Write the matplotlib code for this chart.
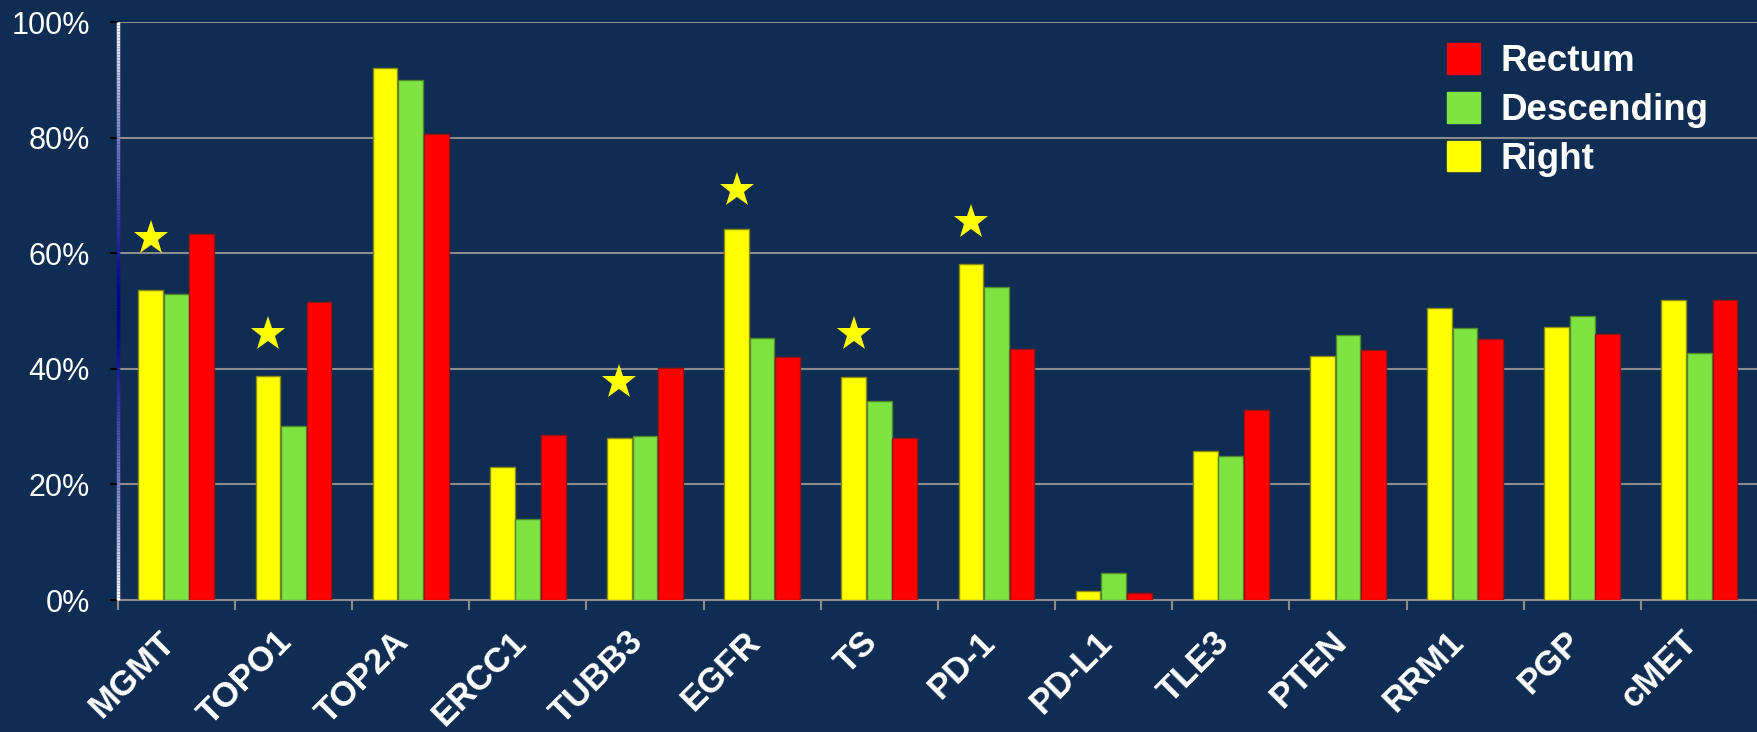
import numpy as np
import matplotlib
matplotlib.use('Agg')
import matplotlib.pyplot as plt
from matplotlib.collections import LineCollection
from matplotlib.transforms import ScaledTranslation

plt.rcParams['font.family'] = ['Liberation Sans', 'DejaVu Sans']

# Data (percent)
genes = ['MGMT', 'TOPO1', 'TOP2A', 'ERCC1', 'TUBB3', 'EGFR', 'TS',
         'PD-1', 'PD-L1', 'TLE3', 'PTEN', 'RRM1', 'PGP', 'cMET']
right = [53.7, 38.8, 92.1, 23.0, 28.1, 64.2, 38.6, 58.2, 1.6, 25.8, 42.2, 50.6, 47.3, 51.9]
descending = [52.9, 30.2, 90.0, 14.1, 28.4, 45.4, 34.4, 54.1, 4.6, 25.0, 45.9, 47.1, 49.2, 42.8]
rectum = [63.3, 51.5, 80.6, 28.6, 40.2, 42.1, 28.0, 43.4, 1.2, 32.9, 43.3, 45.2, 46.0, 52.0]
# significance stars drawn above the "Right" bar
star_genes = ['MGMT', 'TOPO1', 'TUBB3', 'EGFR', 'TS', 'PD-1']
star_y = [62.7, 46.0, 37.7, 71.0, 46.0, 65.4]
yticks = [0, 20, 40, 60, 80, 100]

bg = '#0f2c52'
c_yellow, c_green, c_red = '#ffff00', '#7fe342', '#ff0000'

fig = plt.figure(figsize=(17.58, 7.32), dpi=100, facecolor=bg)
ax = fig.add_axes([117.7 / 1758, 132 / 732, 1 - 117.7 / 1758, (600 - 22.3) / 732])
ax.set_facecolor(bg)

x = np.arange(len(genes))
w = 0.218
ax.bar(x - w, right, w * 0.97, color=c_yellow, edgecolor='#8a8a10', linewidth=1, zorder=3)
ax.bar(x, descending, w * 0.97, color=c_green, edgecolor='#4f8a2a', linewidth=1, zorder=3)
ax.bar(x + w, rectum, w * 0.97, color=c_red, edgecolor='#9a1010', linewidth=1, zorder=3)

sx = [genes.index(g) - w for g in star_genes]
ax.plot(sx, star_y, linestyle='none', marker='*', markersize=26, color=c_yellow,
        markeredgewidth=0, zorder=4)

ax.set_xlim(-0.5, (1758 - 117.7) / 117.6 - 0.5)
ax.set_ylim(0, 100)
ax.set_yticks(yticks)
ax.set_yticklabels(['%d%%' % v for v in yticks])
ax.grid(axis='y', color='#8c8c8c', linewidth=1.5, zorder=1)
ax.set_axisbelow(True)

for s in ['top', 'right', 'left']:
    ax.spines[s].set_visible(False)
ax.spines['bottom'].set_color('#8c8c8c')
ax.spines['bottom'].set_linewidth(1.5)


def axis_color(t):
    # white at top/bottom, deep blue in the middle
    k = min(1.0, abs(t - 0.5) / 0.5) ** 1.4
    blue = np.array([0.0, 0.0, 0.55])
    return tuple(blue + (1 - blue) * k)


ys = np.linspace(0, 1, 200)
segs = [[(0, ys[i]), (0, ys[i + 1])] for i in range(len(ys) - 1)]
cols = [axis_color((ys[i] + ys[i + 1]) / 2) for i in range(len(ys) - 1)]
lc = LineCollection(segs, colors=cols, linewidths=2.5, transform=ax.transAxes,
                    clip_on=False, zorder=5)
ax.add_collection(lc)

ax.tick_params(axis='y', length=6, width=1.5, pad=14, labelsize=22, labelcolor='white')
for t, v in zip(ax.yaxis.get_major_ticks(), yticks):
    t.tick1line.set_color(axis_color(v / 100))

ax.set_xticks(x)
ax.set_xticklabels(genes, rotation=45, ha='right', fontsize=25, fontweight='bold',
                   color='white')
ax.set_xticks(np.arange(len(genes) + 1) - 0.5, minor=True)
ax.tick_params(axis='x', which='major', length=0, pad=18)
ax.tick_params(axis='x', which='minor', length=7, width=1.5, color='#8c8c8c')
for lbl in ax.get_xticklabels():
    lbl.set_transform(lbl.get_transform() + ScaledTranslation(0.05, 0, fig.dpi_scale_trans))

handles = [plt.Rectangle((0, 0), 1, 1, color=c) for c in (c_red, c_green, c_yellow)]
leg = ax.legend(handles, ['Rectum', 'Descending', 'Right'], loc='upper left',
                bbox_to_anchor=(1414 / 1758, 722 / 732), bbox_transform=fig.transFigure,
                frameon=False, handlelength=0.9, handleheight=0.9, handletextpad=0.55,
                labelspacing=0.35, prop={'size': 26.5, 'weight': 'bold'})
for t in leg.get_texts():
    t.set_color('white')

fig.savefig('out.png', dpi=100, facecolor=bg)
